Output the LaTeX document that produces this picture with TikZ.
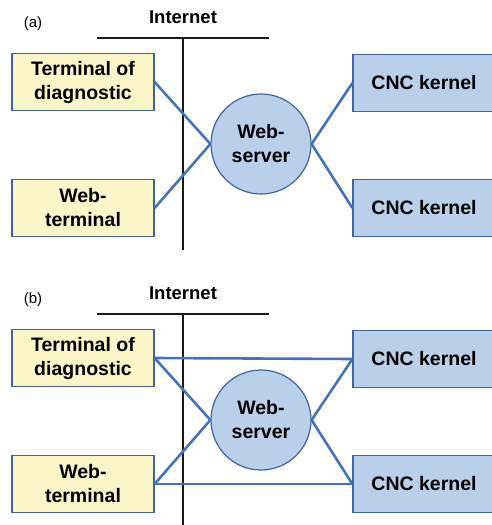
\documentclass[tikz,border=0pt]{standalone}
\usepackage{fontspec}
\setmainfont{Liberation Sans}
\definecolor{termfill}{HTML}{FAF6C8}
\definecolor{cncfill}{HTML}{B9CFEA}
\definecolor{edgeblue}{HTML}{3F64A0}
\definecolor{linkblue}{HTML}{4573B9}
\tikzset{
  box/.style={draw=edgeblue, line width=1.2pt, minimum width=142pt, minimum height=57pt,
    align=center, inner sep=0pt, font=\fontsize{19.5}{24}\selectfont\bfseries},
  term/.style={box, fill=termfill},
  cnc/.style={box, fill=cncfill},
  server/.style={circle, draw=edgeblue, line width=1.2pt, fill=cncfill, minimum size=100pt,
    inner sep=0pt, align=center, font=\fontsize{19.5}{24}\selectfont\bfseries},
  link/.style={draw=linkblue, line width=2.6pt},
  net/.style={draw=black!90, line width=2.6pt},
}
\begin{document}
\begin{tikzpicture}[x=1pt, y=-1pt]
\useasboundingbox (0,0) rectangle (491,525);
\foreach \p/\dy/\vend in {a/0/250, b/276/530} {
  \begin{scope}[yshift=-\dy pt]
    \node[font=\fontsize{15}{18}\selectfont, anchor=center] (lbl\p) at (33,24) {(\p)};
    \node[font=\fontsize{18.5}{22}\selectfont\bfseries] (inet\p) at (183,17) {Internet};
    \coordinate (hl\p) at (97,38);
    \coordinate (hr\p) at (269,38);
    \coordinate (vt\p) at (183,38);
    \coordinate (vb\p) at (183,\vend);
    \draw[net, line width=1.8pt] (hl\p) -- (hr\p);
    \draw[net] (vt\p) -- (vb\p);
    \node[term] (diag\p) at (83,82) {Terminal of\\diagnostic};
    \node[term] (web\p) at (83,208) {Web-\\terminal};
    \node[server] (srv\p) at (261,144) {Web-\\server};
    \node[cnc] (cncA\p) at (424,83) {CNC kernel};
    \node[cnc] (cncB\p) at (424,208) {CNC kernel};
    \draw[link] (diag\p.east) -- (srv\p.west);
    \draw[link] (web\p.east) -- (srv\p.west);
    \draw[link] (srv\p.east) -- (cncA\p.west);
    \draw[link] (srv\p.east) -- (cncB\p.west);
  \end{scope}
}
% direct terminal-to-kernel links in the second variant
\draw[link] (diagb.east) -- (cncAb.west);
\draw[link] (webb.east) -- (cncBb.west);
\end{tikzpicture}
\end{document}
